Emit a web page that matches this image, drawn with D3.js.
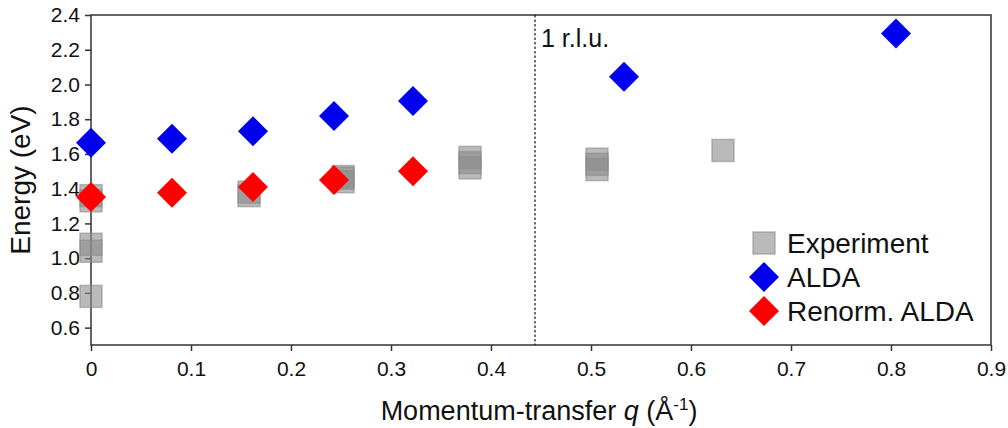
<!DOCTYPE html>
<html><head><meta charset="utf-8">
<script src="https://cdn.jsdelivr.net/npm/d3@7"></script>
<style>body{margin:0;background:#fff}svg{display:block}</style>
</head><body>
<svg id="c" width="1008" height="428"></svg>
<script>
const expQ = [0, 0, 0, 0, 0, 0.158, 0.158, 0.252, 0.252, 0.252, 0.379, 0.379, 0.379, 0.506, 0.506, 0.506, 0.632];
const expE = [0.78, 1.04, 1.08, 1.33, 1.36, 1.36, 1.38, 1.44, 1.46, 1.47, 1.52, 1.55, 1.58, 1.51, 1.54, 1.57, 1.62];
const aldaQ = [0, 0.081, 0.162, 0.243, 0.322, 0.533, 0.805];
const aldaE = [1.665, 1.687, 1.731, 1.818, 1.905, 2.045, 2.293];
const renQ = [0, 0.081, 0.162, 0.243, 0.322];
const renE = [1.352, 1.377, 1.410, 1.450, 1.500];
const xTicks = [0, 0.1, 0.2, 0.3, 0.4, 0.5, 0.6, 0.7, 0.8, 0.9];
const yTicks = [0.6, 0.8, 1.0, 1.2, 1.4, 1.6, 1.8, 2.0, 2.2, 2.4];
const rluQ = 0.444;
const legendLabels = ["Experiment", "ALDA", "Renorm. ALDA"];

const FONT = "'Liberation Sans', Arial, sans-serif";
const svg = d3.select("#c");
const L = 91, R = 991, T = 15, B = 345;
const x = d3.scaleLinear().domain([0, 0.9]).range([L, R]);
const y = d3.scaleLinear().domain([0.5, 2.4]).range([B, T]);
const axisCol = "#333";

// frame
svg.append("rect").attr("x", L).attr("y", T).attr("width", R - L).attr("height", B - T)
  .attr("fill", "none").attr("stroke", axisCol).attr("stroke-width", 1.5);

// x axis
const gx = svg.append("g").attr("transform", `translate(0,${B})`)
  .call(d3.axisBottom(x).tickValues(xTicks).tickSize(6).tickPadding(10)
    .tickFormat(d => d === 0 ? "0" : d3.format(".1f")(d)));
gx.select(".domain").remove();
gx.selectAll("line").attr("stroke", axisCol).attr("stroke-width", 1.5);
gx.selectAll("text").attr("font-family", FONT).attr("font-size", 21).attr("fill", "#111");

// y axis
const gy = svg.append("g").attr("transform", `translate(${L},0)`)
  .call(d3.axisLeft(y).tickValues(yTicks).tickSize(6).tickPadding(5).tickFormat(d3.format(".1f")));
gy.select(".domain").remove();
gy.selectAll("line").attr("stroke", axisCol).attr("stroke-width", 1.5);
gy.selectAll("text").attr("font-family", FONT).attr("font-size", 21).attr("fill", "#111");

// labels
svg.append("text").attr("transform", `translate(30,${(T + B) / 2}) rotate(-90)`)
  .attr("text-anchor", "middle").attr("font-family", FONT)
  .attr("font-size", 28).attr("fill", "#111").text("Energy (eV)");
const xl = svg.append("text").attr("x", 539).attr("y", 420).attr("text-anchor", "middle")
  .attr("font-family", FONT).attr("font-size", 27).attr("fill", "#111");
xl.append("tspan").text("Momentum-transfer ");
xl.append("tspan").attr("font-style", "italic").text("q");
xl.append("tspan").text(" (Å");
xl.append("tspan").attr("dy", -10).attr("font-size", 17).text("-1");
xl.append("tspan").attr("dy", 10).text(")");

// rlu line
svg.append("line").attr("x1", x(rluQ)).attr("x2", x(rluQ)).attr("y1", T).attr("y2", B)
  .attr("stroke", "#111").attr("stroke-width", 1.2).attr("stroke-dasharray", "2.5,2");
svg.append("text").attr("x", x(rluQ) + 6).attr("y", 47)
  .attr("font-family", FONT).attr("font-size", 25)
  .attr("fill", "#111").text("1 r.l.u.");

// experiment squares
const sq = 22;
svg.append("g").selectAll("rect").data(expQ.map((q, i) => [q, expE[i]])).join("rect")
  .attr("x", d => x(d[0]) - sq / 2).attr("y", d => y(d[1]) - sq / 2)
  .attr("width", sq).attr("height", sq)
  .attr("fill", "#8c8c8c").attr("fill-opacity", 0.6)
  .attr("stroke", "#8c8c8c").attr("stroke-opacity", 0.6).attr("stroke-width", 1.5);

const dia = (cx, cy, r) => `M${cx},${cy - r}L${cx + r},${cy}L${cx},${cy + r}L${cx - r},${cy}Z`;
svg.append("g").selectAll("path").data(aldaQ.map((q, i) => [q, aldaE[i]])).join("path")
  .attr("d", d => dia(x(d[0]), y(d[1]), 15)).attr("fill", "#0000ee");
svg.append("g").selectAll("path").data(renQ.map((q, i) => [q, renE[i]])).join("path")
  .attr("d", d => dia(x(d[0]), y(d[1]), 15)).attr("fill", "#ff0000");

// legend
const lg = svg.append("g");
const ly = [243, 277, 311];
lg.append("rect").attr("x", 753).attr("y", ly[0] - 11).attr("width", 22).attr("height", 22)
  .attr("fill", "#8c8c8c").attr("fill-opacity", 0.6).attr("stroke", "#8c8c8c").attr("stroke-opacity", 0.6).attr("stroke-width", 1.5);
lg.append("path").attr("d", dia(764, ly[1], 15)).attr("fill", "#0000ee");
lg.append("path").attr("d", dia(764, ly[2], 15)).attr("fill", "#ff0000");
lg.selectAll("text").data(legendLabels).join("text")
  .attr("x", 787).attr("y", (d, i) => ly[i] + 10)
  .attr("font-family", FONT).attr("font-size", 28)
  .attr("fill", "#111").text(d => d);
</script>
</body></html>
